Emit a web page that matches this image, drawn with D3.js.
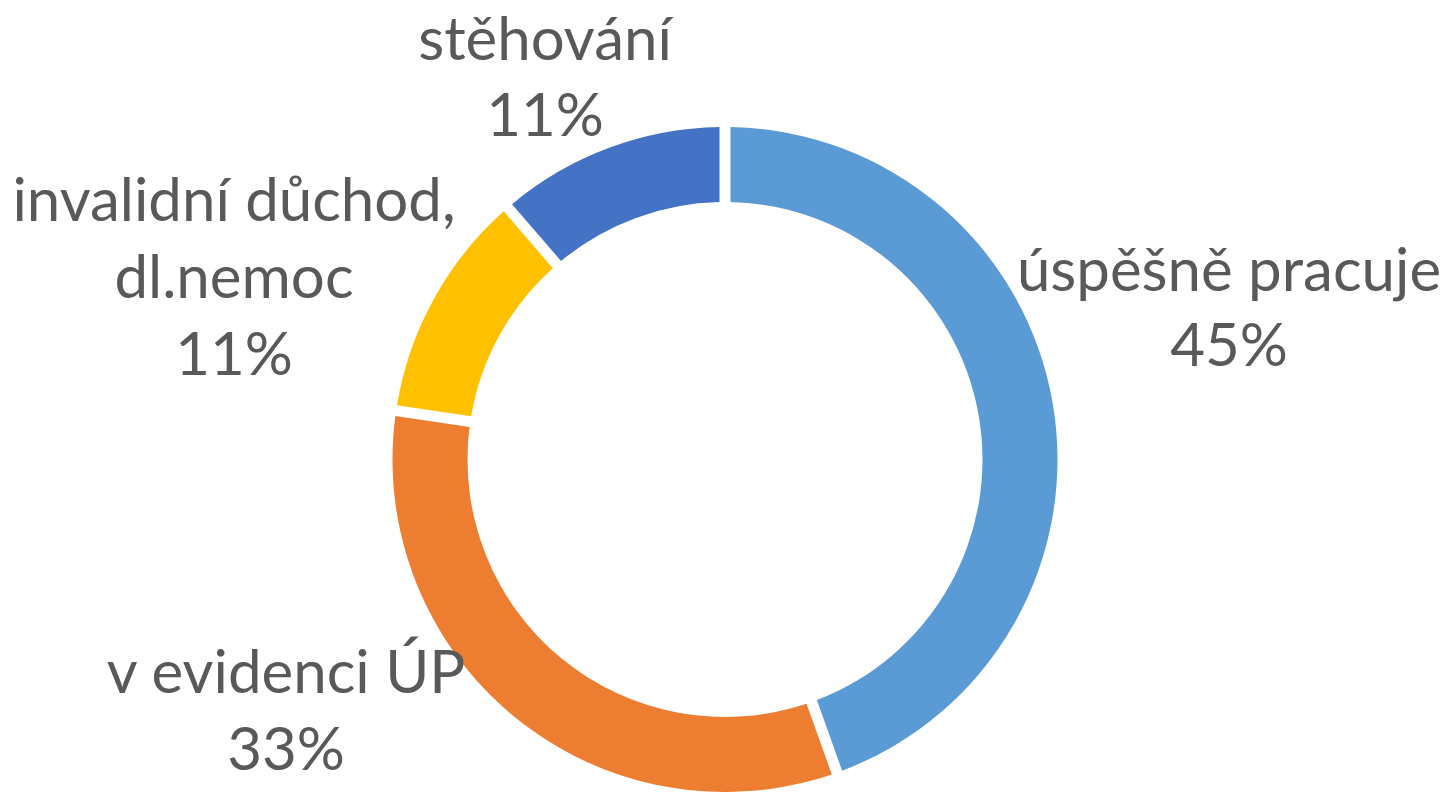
<!DOCTYPE html>
<html>
<head>
<meta charset="utf-8">
<script src="https://cdnjs.cloudflare.com/ajax/libs/d3/7.8.5/d3.min.js"></script>
<style>
    body { margin: 0; background: #ffffff; }
    text { font-family: Lato, "Open Sans", sans-serif; fill: #595959; }
</style>
</head>
<body>
<div id="svgdiv"></div>
<script>
// Step 1: chart data
var categories = ["úspěšně pracuje", "v evidenci ÚP", "invalidní důchod, dl.nemoc", "stěhování"];
var values = [45, 33, 11, 11];
var labelLines = [["úspěšně pracuje"], ["v evidenci ÚP"], ["invalidní důchod,", "dl.nemoc"], ["stěhování"]];
var colors = ["#5B9BD5", "#ED7D31", "#FFC000", "#4472C4"];

// Step 2: set up the svg
var svgWidth = 1443;
var svgHeight = 793;

var cx = 725;
var cy = 459.5;
var outerR = 332.5;
var innerR = 257.5;
var gap = 11;

var svg = d3.select("#svgdiv")
    .append("svg")
    .attr("width", svgWidth)
    .attr("height", svgHeight);

var chartGroup = svg.append("g")
    .attr("transform", `translate(${cx}, ${cy})`);

// Step 3: pie layout + arcs
var pieData = categories.map(function(c, i) {
    return { name: c, value: values[i], lines: labelLines[i], color: colors[i] };
});

var pie = d3.pie()
    .sort(null)
    .value(d => d.value)
    .padAngle(gap / 300);

var arc = d3.arc()
    .innerRadius(innerR)
    .outerRadius(outerR)
    .padRadius(300);

var arcs = pie(pieData);

chartGroup.selectAll("path")
    .data(arcs)
    .enter()
    .append("path")
        .attr("d", arc)
        .attr("fill", d => d.data.color);

// Step 4: data labels (moved outside the ring, like in the original)
// label box centre x, first baseline and line step, relative to the page
var labelLayout = {
    "úspěšně pracuje": { x: 1229, y: 291, step: 75 },
    "v evidenci ÚP": { x: 286, y: 693, step: 77 },
    "invalidní důchod, dl.nemoc": { x: 234, y: 221, step: 77 },
    "stěhování": { x: 545, y: 60, step: 76 }
};
var total = d3.sum(values);

arcs.forEach(function(d) {
    var pos = labelLayout[d.data.name];
    var lines = d.data.lines.concat([Math.round(d.data.value / total * 100) + "%"]);
    var t = svg.append("text")
        .attr("text-anchor", "middle")
        .attr("font-size", "60px");
    lines.forEach(function(line, i) {
        t.append("tspan")
            .attr("x", pos.x)
            .attr("y", pos.y + i * pos.step)
            .text(line);
    });
});
</script>
</body>
</html>
